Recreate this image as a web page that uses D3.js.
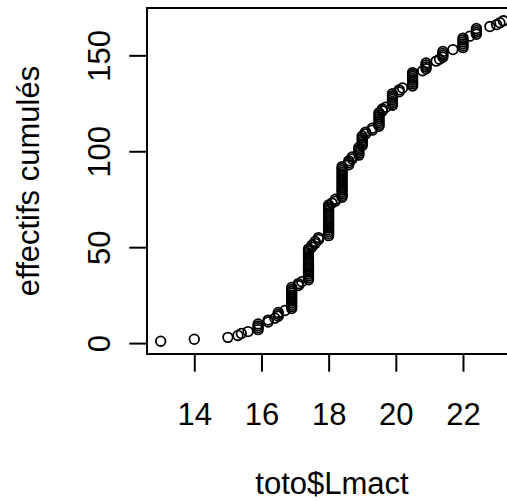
<!DOCTYPE html>
<html>
<head>
<meta charset="utf-8">
<script src="https://cdn.jsdelivr.net/npm/d3@7"></script>
<style>
  body { margin: 0; background: #fff; }
  svg { display: block; }
  text { font-family: "Liberation Sans", Arial, Helvetica, sans-serif; fill: #000; }
</style>
</head>
<body>
<svg width="507" height="502"></svg>
<script>
// sorted toto$Lmact values and how many times each one appears
const lmactValues = [13.0, 14.0, 15.0, 15.3, 15.4, 15.6, 15.9, 16.2, 16.4, 16.5,
    16.7, 16.9, 17.1, 17.2, 17.4, 17.5, 17.6, 17.7, 18.0, 18.1,
    18.2, 18.4, 18.6, 18.7, 18.9, 19.0, 19.1, 19.3, 19.5, 19.6,
    19.7, 19.9, 20.1, 20.2, 20.5, 20.8, 20.9, 21.2, 21.3, 21.4,
    21.7, 22.0, 22.2, 22.4, 22.8, 23.0, 23.1, 23.2];
const lmactCounts = [1, 1, 1, 1, 1, 1, 4, 2, 1, 3,
    1, 12, 2, 1, 17, 2, 2, 2, 17, 1,
    2, 17, 3, 2, 5, 6, 2, 2, 8, 2,
    1, 7, 2, 1, 8, 1, 4, 1, 1, 4,
    1, 6, 1, 4, 1, 1, 1, 1];

const xTicks = [14, 16, 18, 20, 22];
const yTicks = [0, 50, 100, 150];

const xLabel = 'toto$Lmact';
const yLabel = 'effectifs cumulés';

// cumulative counts: one point per observation
const points = [];
lmactValues.forEach((v, k) => {
    for (let j = 0; j < lmactCounts[k]; j++) {
        points.push({ x: v, y: points.length + 1 });
    }
});

const svg = d3.select('svg');

// plot region (right edge falls outside the window, as in the original)
const plotLeft = 147, plotRight = 517, plotTop = 8, plotBottom = 354;
const fontSize = 31;
const tickLen = 17.7;

// R style 4% padding around the data range
const pad = (ext) => {
    const d = (ext[1] - ext[0]) * 0.04;
    return [ext[0] - d, ext[1] + d];
};

const xScale = d3.scaleLinear()
    .domain(pad(d3.extent(points, (p) => p.x)))
    .range([plotLeft, plotRight]);

const yScale = d3.scaleLinear()
    .domain(pad(d3.extent(points, (p) => p.y)))
    .range([plotBottom, plotTop]);

svg.append('rect')
    .attr('width', 507)
    .attr('height', 502)
    .attr('fill', '#fff');

// x axis
const xAxis = svg.append('g')
    .attr('transform', `translate(0, ${plotBottom})`)
    .call(d3.axisBottom(xScale)
        .tickValues(xTicks)
        .tickSize(tickLen)
        .tickFormat(d3.format('d')));
xAxis.select('.domain').remove();
xAxis.selectAll('line')
    .attr('stroke', '#000')
    .attr('stroke-width', 2);
xAxis.selectAll('text')
    .attr('y', 425 - plotBottom)
    .attr('dy', null)
    .attr('font-size', fontSize)
    .attr('font-family', null)
    .attr('fill', '#000');

// y axis
const yAxis = svg.append('g')
    .attr('transform', `translate(${plotLeft}, 0)`)
    .call(d3.axisLeft(yScale)
        .tickValues(yTicks)
        .tickSize(tickLen)
        .tickFormat(d3.format('d')));
yAxis.select('.domain').remove();
yAxis.selectAll('line')
    .attr('stroke', '#000')
    .attr('stroke-width', 2);
yAxis.selectAll('text')
    .attr('x', null)
    .attr('dy', null)
    .attr('transform', `translate(${110 - plotLeft}, 0) rotate(-90)`)
    .attr('text-anchor', 'middle')
    .attr('font-size', fontSize)
    .attr('font-family', null)
    .attr('fill', '#000');

// points
svg.append('g')
    .selectAll('circle')
    .data(points)
    .enter()
    .append('circle')
    .attr('cx', (p) => xScale(p.x))
    .attr('cy', (p) => yScale(p.y))
    .attr('r', 4.8)
    .attr('fill', 'none')
    .attr('stroke', '#000')
    .attr('stroke-width', 1.8);

// box
svg.append('rect')
    .attr('x', plotLeft)
    .attr('y', plotTop)
    .attr('width', plotRight - plotLeft)
    .attr('height', plotBottom - plotTop)
    .attr('fill', 'none')
    .attr('stroke', '#000')
    .attr('stroke-width', 2);

// axis titles
svg.append('text')
    .attr('x', (plotLeft + plotRight) / 2)
    .attr('y', 494)
    .attr('text-anchor', 'middle')
    .attr('font-size', fontSize)
    .text(xLabel);

svg.append('text')
    .attr('transform', `translate(38.5, ${(plotTop + plotBottom) / 2}) rotate(-90)`)
    .attr('text-anchor', 'middle')
    .attr('font-size', fontSize)
    .text(yLabel);
</script>
</body>
</html>
